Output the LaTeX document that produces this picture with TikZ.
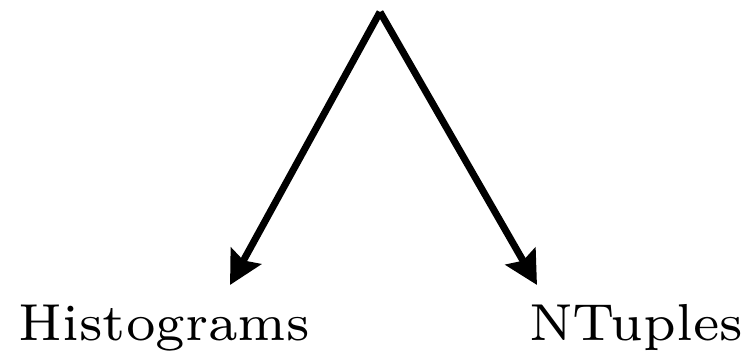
\documentclass[tikz,border=0pt]{standalone}
\usepackage{fontspec}
\usetikzlibrary{arrows.meta}
\newfontfamily\labelfont{lmroman7-regular.otf}
\begin{document}
\begin{tikzpicture}[x=1pt, y=-1pt,
    branch/.style={line width=7pt, -{Stealth[length=33pt, width=34pt, inset=5pt]}},
    leaf/.style={anchor=base, inner sep=0pt, font=\labelfont\fontsize{52}{60}\selectfont}]
    \useasboundingbox (0,0) rectangle (749,356);

    % Top of the tree
    \coordinate (Root) at (380,12);

    % Where the arrows stop
    \coordinate (HistTip) at (230,285);
    \coordinate (TupleTip) at (537,285);

    % The two leaves
    \node[leaf] (Hist) at (164.5,340) {Histograms};
    \node[leaf] (Tuple) at (636,340) {NTuples};

    % Draw the branches
    \draw[branch] (Root) -- (HistTip);
    \draw[branch] (Root) -- (TupleTip);
\end{tikzpicture}
\end{document}
